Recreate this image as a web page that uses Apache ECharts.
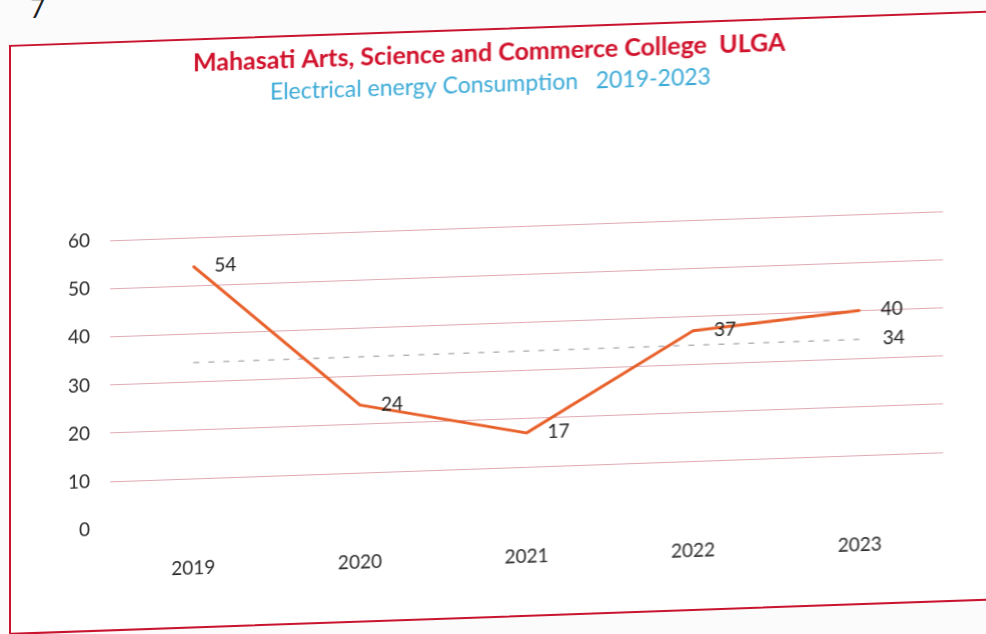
<!DOCTYPE html>
<html>
<head>
<meta charset="utf-8">
<script src="https://cdn.jsdelivr.net/npm/echarts@6/dist/echarts.min.js"></script>
<style>
  html, body { margin: 0; padding: 0; background: #fbfbfb; overflow: hidden; }
  #page { position: absolute; left: 0; top: 0; width: 986px; height: 634px; transform: skewY(-2deg); transform-origin: 493px 317px; }
  #frame { position: absolute; left: 9px; top: 28px; width: 1000px; height: 590px; border: 2px solid #c9142f; box-sizing: border-box; background: #fff; }
  #chart { position: absolute; left: 0; top: 0; width: 986px; height: 634px; }
  #pg { position: absolute; left: 30px; top: -8px; font: 26px Lato, sans-serif; color: #222; }
</style>
</head>
<body>
<div id="pg">7</div>
<div id="page">
  <div id="frame"></div>
  <div id="chart"></div>
</div>
<script>
// 年份
const years = ['2019', '2020', '2021', '2022', '2023']
// 用电量
const consumption = [54, 24, 17, 37, 40]
// 平均值（虚线）
const average = [34, 34, 34, 34, 34]
const yTicks = [0, 10, 20, 30, 40, 50, 60]

const chart = echarts.init(document.getElementById('chart'))

chart.setOption({
  backgroundColor: 'transparent',
  textStyle: { fontFamily: 'Lato, sans-serif' },
  title: [
    {
      text: 'Mahasati Arts, Science and Commerce College  ULGA',
      left: 188,
      top: 35,
      textStyle: { color: '#d0112b', fontSize: 25, fontWeight: 'bold', fontFamily: 'Lato, sans-serif' }
    },
    {
      text: 'Electrical energy Consumption   2019-2023',
      left: 265,
      top: 68,
      textStyle: { color: '#3aa9d6', fontSize: 23, fontWeight: 'normal', fontFamily: 'Lato, sans-serif' }
    }
  ],
  grid: { left: 110, right: 43, top: 227, bottom: 118 },
  xAxis: {
    type: 'category',
    data: years,
    boundaryGap: true,
    axisLine: { show: false },
    axisTick: { show: false },
    axisLabel: { color: '#2a2a2a', fontSize: 19, margin: 32 }
  },
  yAxis: {
    type: 'value',
    min: yTicks[0],
    max: yTicks[yTicks.length - 1],
    interval: 10,
    axisLine: { show: false },
    axisTick: { show: false },
    axisLabel: {
      color: '#2a2a2a', fontSize: 19, margin: 20,
      formatter: v => (yTicks.includes(v) ? String(v) : '')
    },
    splitLine: {
      lineStyle: { color: '#dfaab3', width: 1 },
      showMinLine: false
    }
  },
  series: [
    {
      name: 'Average',
      type: 'line',
      data: average,
      symbol: 'none',
      lineStyle: { color: '#b5b5b5', width: 1.5, type: [6, 9] },
      endLabel: {
        show: true,
        color: '#1e1e1e',
        fontSize: 19,
        distance: 23,
        formatter: p => String(p.value)
      },
      z: 1
    },
    {
      name: 'Consumption',
      type: 'line',
      data: consumption,
      symbol: 'circle',
      symbolSize: 2,
      showSymbol: true,
      itemStyle: { color: '#e8602a' },
      lineStyle: { color: '#e8602a', width: 3 },
      label: {
        show: true,
        position: 'right',
        distance: 20,
        color: '#1e1e1e',
        fontSize: 19
      },
      z: 2
    }
  ]
})
</script>
</body>
</html>
